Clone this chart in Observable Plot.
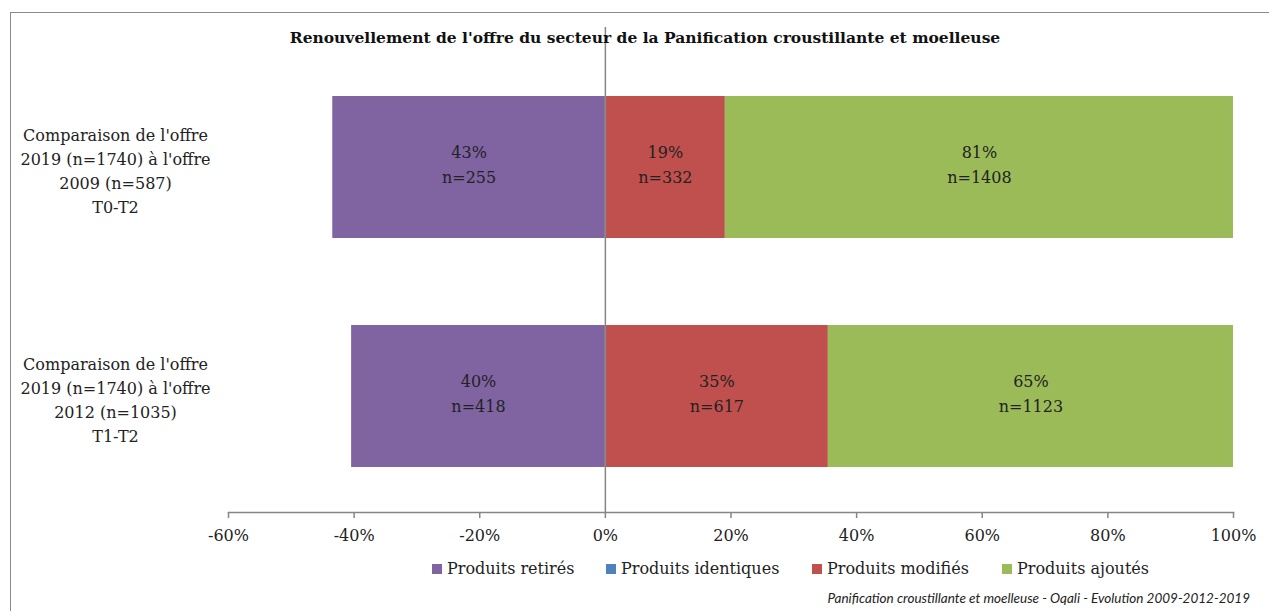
<!DOCTYPE html>
<html>
<head>
<meta charset="utf-8">
<script src="https://cdn.jsdelivr.net/npm/d3@7"></script>
<script src="https://cdn.jsdelivr.net/npm/@observablehq/plot@0.6"></script>
<style>
  html, body { margin: 0; padding: 0; background: #fff; }
  #wrap { position: relative; width: 1269px; height: 611px; overflow: hidden; font-family: "DejaVu Serif", serif; }
  #border { position: absolute; left: 10px; top: 12px; width: 1300px; height: 700px; border: 1.5px solid #8a8a8a; box-sizing: border-box; }
  #title { position: absolute; left: 0; width: 1290px; top: 28px; text-align: center; font-weight: bold; font-size: 15.5px; color: #111; }
  #chart { position: absolute; left: 0; top: 0; }
  #legend { position: absolute; top: 559px; left: 0; width: 1269px; }
  .item { position: absolute; display: flex; align-items: center; font-size: 16px; color: #222; white-space: nowrap; }
  .sw { width: 10px; height: 10px; margin-right: 5px; }
  #caption { position: absolute; right: 19px; top: 590px; font-family: Lato, "Open Sans", sans-serif; font-style: italic; font-size: 13.5px; color: #222; }
</style>
</head>
<body>
<div id="wrap">
  <div id="border"></div>
  <div id="chart"></div>
  <div id="title">Renouvellement de l'offre du secteur de la Panification croustillante et moelleuse</div>
  <div id="legend"></div>
  <div id="caption">Panification croustillante et moelleuse - Oqali - Evolution 2009-2012-2019</div>
</div>
<script>
const categories = [
  "Comparaison de l'offre\n2019 (n=1740) à l'offre\n2009 (n=587)\nT0-T2",
  "Comparaison de l'offre\n2019 (n=1740) à l'offre\n2012 (n=1035)\nT1-T2"
];
const series = ["Produits retirés", "Produits identiques", "Produits modifiés", "Produits ajoutés"];
const colors = ["#8064A2", "#4F81BD", "#C0504D", "#9BBB59"];
const retires   = [-43.4, -40.4];
const identiques = [0, 0];
const modifies  = [19.1, 35.5];
const ajoutes   = [80.9, 64.5];
const pctLabels = [["43%", "", "19%", "81%"], ["40%", "", "35%", "65%"]];
const nLabels   = [["n=255", "", "n=332", "n=1408"], ["n=418", "", "n=617", "n=1123"]];
const xTicks = [-60, -40, -20, 0, 20, 40, 60, 80, 100];

const valuesBySeries = [retires, identiques, modifies, ajoutes];
const data = [];
categories.forEach((c, i) => {
  series.forEach((s, j) => {
    data.push({cat: c, series: s, value: valuesBySeries[j][i],
      label: pctLabels[i][j] ? pctLabels[i][j] + "\n" + nLabels[i][j] : ""});
  });
});

const plot = Plot.plot({
  width: 1269,
  height: 550,
  marginLeft: 228,
  marginRight: 36,
  marginTop: 27,
  marginBottom: 38,
  style: {fontFamily: '"DejaVu Serif", serif', fontSize: "16px", color: "#222", background: "transparent"},
  x: {domain: [-60, 100], ticks: xTicks, tickFormat: d => d + "%"},
  y: {domain: categories, paddingInner: 0.38, paddingOuter: 0.19, insetTop: 25.5, insetBottom: 1.5},
  color: {domain: series, range: colors},
  marks: [
    Plot.barX(data, Plot.stackX({x: "value", y: "cat", fill: "series", order: series})),
    Plot.text(data.filter(d => d.label), Plot.stackX({x: "value", y: "cat", z: "series", order: series, text: "label", fill: "#222", fontSize: 16, lineHeight: 1.55, dy: -5})),
    Plot.ruleX([0], {stroke: "#868686", strokeWidth: 1.5}),
    Plot.frame({anchor: "bottom", stroke: "#868686", strokeWidth: 1.5}),
    Plot.axisX({ticks: xTicks, tickFormat: d => d + "%", tickSize: 6, tickPadding: 11, stroke: "#868686", strokeWidth: 1.5, fill: "#222", fontSize: 16, label: null}),
    Plot.text(categories, {y: d => d, frameAnchor: "left", dx: -113, textAnchor: "middle", text: d => d, fill: "#222", fontSize: 16, lineHeight: 1.51, dy: 1.5}),
    Plot.axisY({ticks: [], label: null, tickSize: 0})
  ]
});
document.getElementById("chart").appendChild(plot);

const legendX = [432, 606, 812, 1002];
const leg = document.getElementById("legend");
series.forEach((s, j) => {
  const it = document.createElement("div");
  it.className = "item";
  it.style.left = legendX[j] + "px";
  it.innerHTML = `<span class="sw" style="background:${colors[j]}"></span><span>${s}</span>`;
  leg.appendChild(it);
});
</script>
</body>
</html>
